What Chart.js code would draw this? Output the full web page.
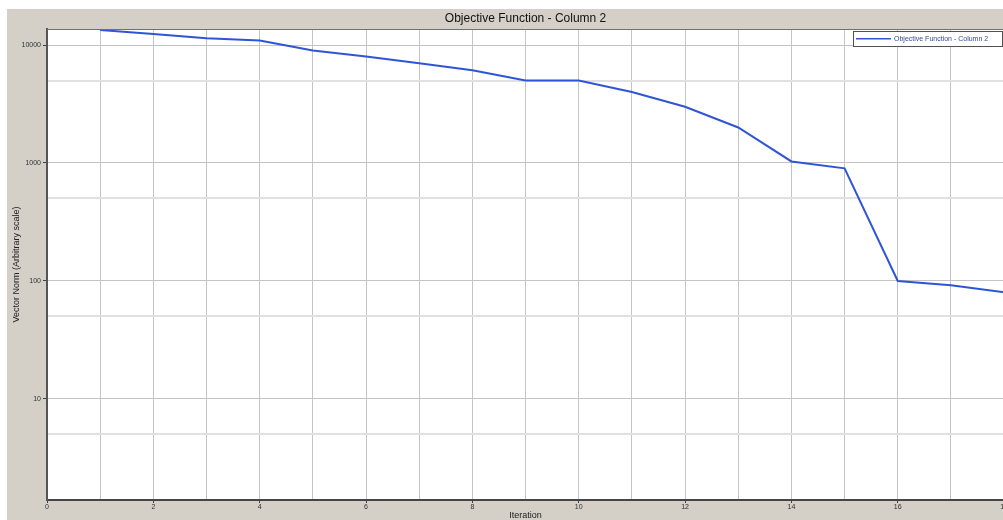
<!DOCTYPE html>
<html>
<head>
<meta charset="utf-8">
<script src="https://cdn.jsdelivr.net/npm/chart.js@4.4.1/dist/chart.umd.min.js"></script>
<style>
html,body{margin:0;padding:0;overflow:hidden;background:#fff;}
#wrap{position:absolute;left:0;top:0;width:1008px;height:520px;}
</style>
</head>
<body>
<div id="wrap"><canvas id="c" width="1008" height="520"></canvas></div>
<script>
const chartTitle = "Objective Function - Column 2";
const seriesLabel = "Objective Function - Column 2";
const xTitle = "Iteration";
const yTitle = "Vector Norm (Arbitrary scale)";
const iterations = [1,2,3,4,5,6,7,8,9,10,11,12,13,14,15,16,17,18];
const objectiveValues = [13400,12400,11400,10900,9000,8000,7000,6100,5000,5000,4000,3000,2000,1030,900,100,92,80];
const yTickValues = [5,10,50,100,500,1000,5000,10000];
const yLabelValues = [10,100,1000,10000];
const xMin = 0, xMax = 18;
const yMin = 1.39, yMax = 13670;

const GRAY = '#d4d0c8';
const LINE = '#2f55d4';

const decor = {
  id: 'decor',
  beforeDraw(chart) {
    const {ctx, chartArea: a} = chart;
    ctx.save();
    ctx.fillStyle = '#ffffff';
    ctx.fillRect(0, 0, chart.width, chart.height);
    ctx.fillStyle = GRAY;
    ctx.fillRect(7, 9, chart.width - 7, chart.height - 9);
    ctx.fillStyle = '#ffffff';
    ctx.fillRect(a.left, a.top, a.right - a.left, a.bottom - a.top);
    ctx.restore();
  },
  afterDraw(chart) {
    const {ctx, chartArea: a} = chart;
    ctx.save();
    // plot border (top)
    ctx.strokeStyle = '#707070';
    ctx.lineWidth = 1;
    ctx.beginPath();
    ctx.moveTo(a.left, a.top + 0.5);
    ctx.lineTo(a.right, a.top + 0.5);
    ctx.stroke();
    // title
    ctx.fillStyle = '#111111';
    ctx.font = '12px "Liberation Sans", Arial, sans-serif';
    ctx.textAlign = 'center';
    ctx.textBaseline = 'middle';
    ctx.fillText(chartTitle, (a.left + a.right) / 2, 18.5);
    // legend
    const lx = 853, ly = 31, lw = 149, lh = 15;
    ctx.fillStyle = '#ffffff';
    ctx.fillRect(lx, ly, lw, lh);
    ctx.strokeStyle = '#505050';
    ctx.lineWidth = 1;
    ctx.strokeRect(lx + 0.5, ly + 0.5, lw, lh);
    ctx.strokeStyle = LINE;
    ctx.lineWidth = 1.5;
    ctx.beginPath();
    ctx.moveTo(856, 38.7);
    ctx.lineTo(891, 38.7);
    ctx.stroke();
    ctx.fillStyle = '#344a96';
    ctx.font = '7px "Liberation Sans", Arial, sans-serif';
    ctx.textAlign = 'left';
    ctx.textBaseline = 'middle';
    ctx.fillText(seriesLabel, 894, 39);
    ctx.restore();
  }
};

const isLabel = v => yLabelValues.includes(v);

new Chart(document.getElementById('c'), {
  type: 'line',
  data: {
    datasets: [{
      label: seriesLabel,
      data: iterations.map((x, i) => ({x: x, y: objectiveValues[i]})),
      borderColor: LINE,
      borderWidth: 2,
      pointRadius: 0,
      tension: 0,
      fill: false
    }]
  },
  options: {
    responsive: false,
    animation: false,
    devicePixelRatio: 1,
    layout: {padding: {left: 7, top: 29, right: 2, bottom: 0}},
    plugins: {legend: {display: false}, title: {display: false}, tooltip: {enabled: false}},
    scales: {
      x: {
        type: 'linear',
        min: xMin, max: xMax,
        afterFit(s) { s.height = 20; },
        ticks: {
          stepSize: 1,
          autoSkip: false,
          maxRotation: 0,
          padding: 0,
          color: '#303030',
          font: {size: 7, family: '"Liberation Sans", Arial, sans-serif'},
          callback: v => (v % 2 === 0 ? String(v) : '')
        },
        grid: {
          color: '#c4c4c4',
          lineWidth: 1,
          tickLength: 3,
          tickColor: ctx => (ctx.tick && ctx.tick.value % 2 === 0 ? '#404040' : 'rgba(0,0,0,0)')
        },
        border: {display: true, color: '#454545', width: 2},
        title: {
          display: true,
          text: xTitle,
          color: '#202020',
          font: {size: 9, lineHeight: 1, family: '"Liberation Sans", Arial, sans-serif'},
          padding: {top: 0, bottom: 0}
        }
      },
      y: {
        type: 'logarithmic',
        min: yMin, max: yMax,
        afterFit(s) { s.width = 40; },
        afterBuildTicks(s) { s.ticks = yTickValues.map(v => ({value: v})); },
        ticks: {
          autoSkip: false,
          padding: 2,
          color: '#303030',
          font: {size: 7, family: '"Liberation Sans", Arial, sans-serif'},
          callback: v => (isLabel(v) ? String(v) : '')
        },
        grid: {
          color: ctx => (ctx.tick && isLabel(ctx.tick.value) ? '#c4c4c4' : '#e0e0e0'),
          lineWidth: ctx => (ctx.tick && isLabel(ctx.tick.value) ? 1 : 2),
          tickLength: 4,
          tickColor: ctx => (ctx.tick && isLabel(ctx.tick.value) ? '#404040' : 'rgba(0,0,0,0)')
        },
        border: {display: true, color: '#555555', width: 2},
        title: {
          display: true,
          text: yTitle,
          color: '#202020',
          font: {size: 9, family: '"Liberation Sans", Arial, sans-serif'},
          padding: {top: 4.6, bottom: 0}
        }
      }
    }
  },
  plugins: [decor]
});
</script>
</body>
</html>
